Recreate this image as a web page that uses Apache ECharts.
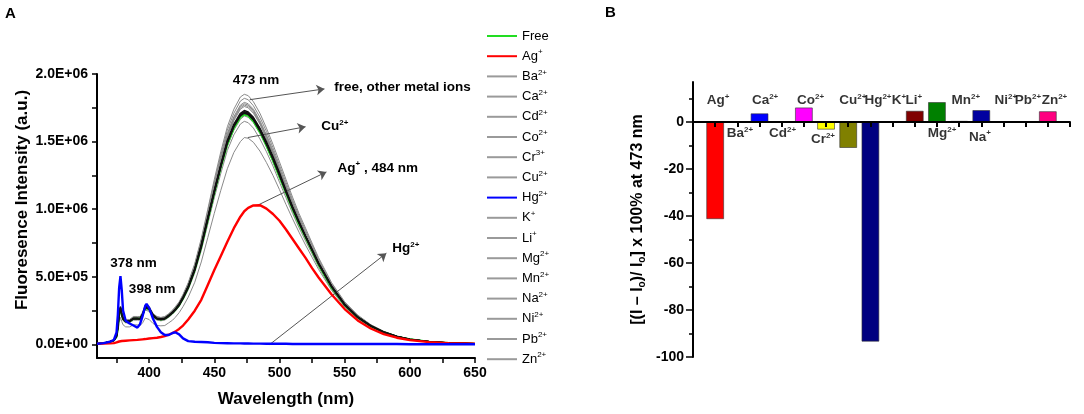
<!DOCTYPE html>
<html><head><meta charset="utf-8">
<script src="https://cdn.jsdelivr.net/npm/echarts@6.0.0/dist/echarts.min.js"></script>
<style>html,body{margin:0;padding:0;background:#fff}#c{width:1084px;height:414px}</style>
</head><body><div id="c"></div>
<script>
// ---------- Panel A data (intensity in units of 1E+06 a.u.) ----------
const wavelengths = [360,365,370,373,375,376,377,378,379,380,
  382,385,388,391,393,395,397,398,400,403,
  406,409,412,415,418,420,423,426,430,435,
  440,445,450,455,460,465,470,473,476,480,
  485,490,495,500,505,510,515,520,525,530,
  540,550,560,570,580,590,600,615,630,650];

const sFree = [.005,.01,.02,.03,.06,.12,.22,.26,.22,.19,
  .17,.17,.19,.19,.19,.22,.27,.28,.26,.21,
  .19,.185,.19,.21,.235,.255,.29,.34,.42,.55,
  .72,.92,1.12,1.31,1.48,1.60,1.68,1.70,1.69,1.65,
  1.57,1.47,1.36,1.24,1.12,1.00,.89,.79,.69,.59,
  .42,.29,.20,.135,.09,.058,.038,.02,.011,.006];
const sAg = [.005,.006,.008,.01,.015,.02,.022,.025,.026,.027,
  .028,.03,.032,.034,.036,.038,.04,.041,.044,.047,
  .05,.055,.062,.072,.085,.095,.115,.14,.185,.25,
  .33,.44,.55,.655,.76,.86,.945,.985,1.01,1.028,
  1.03,1.005,.965,.915,.85,.78,.71,.64,.565,.495,
  .37,.262,.178,.118,.077,.05,.032,.017,.01,.006];
const sBa = [.005,.01,.02,.03,.065,.13,.23,.27,.22,.19,
  .17,.17,.19,.19,.19,.22,.275,.285,.265,.215,
  .19,.185,.19,.21,.235,.255,.29,.345,.425,.555,
  .73,.93,1.13,1.32,1.50,1.62,1.70,1.72,1.71,1.67,
  1.59,1.49,1.38,1.26,1.13,1.01,.90,.80,.70,.60,
  .43,.295,.20,.137,.091,.059,.038,.02,.011,.006];
const sCa = [.005,.01,.02,.03,.06,.12,.22,.265,.22,.19,
  .175,.175,.195,.195,.195,.225,.28,.29,.27,.22,
  .195,.19,.195,.215,.245,.265,.30,.355,.44,.57,
  .75,.955,1.16,1.355,1.53,1.655,1.74,1.76,1.75,1.71,
  1.63,1.52,1.41,1.285,1.16,1.035,.92,.815,.71,.61,
  .435,.30,.207,.14,.093,.06,.039,.021,.011,.006];
const sCd = [.005,.01,.02,.03,.06,.12,.22,.265,.22,.19,
  .17,.17,.19,.19,.19,.22,.27,.285,.26,.21,
  .19,.185,.19,.21,.235,.255,.29,.34,.42,.55,
  .72,.925,1.125,1.315,1.49,1.61,1.69,1.71,1.70,1.66,
  1.58,1.48,1.37,1.25,1.13,1.01,.90,.795,.695,.595,
  .425,.292,.201,.136,.09,.058,.038,.02,.011,.006];
const sCo = [.005,.01,.02,.03,.06,.12,.22,.275,.23,.2,
  .18,.182,.203,.203,.203,.235,.29,.3,.278,.225,
  .203,.198,.203,.225,.25,.273,.31,.364,.45,.59,
  .77,.985,1.20,1.40,1.585,1.71,1.80,1.82,1.81,1.765,
  1.68,1.575,1.455,1.325,1.20,1.07,.952,.845,.738,.63,
  .45,.31,.214,.145,.096,.062,.041,.021,.012,.006];
const sCr = [.005,.01,.02,.03,.055,.11,.2,.24,.2,.175,
  .16,.16,.18,.18,.18,.21,.255,.265,.245,.2,
  .18,.175,.18,.2,.225,.245,.28,.33,.405,.53,
  .695,.89,1.085,1.265,1.435,1.55,1.63,1.65,1.64,1.60,
  1.52,1.425,1.32,1.20,1.085,.97,.863,.765,.67,.572,
  .407,.282,.194,.131,.087,.056,.037,.019,.011,.006];
const sCu = [.005,.01,.018,.025,.045,.09,.16,.2,.17,.145,
  .13,.13,.145,.145,.14,.16,.195,.2,.185,.155,
  .14,.138,.14,.16,.18,.2,.235,.28,.35,.46,
  .61,.79,.97,1.14,1.30,1.42,1.50,1.53,1.525,1.495,
  1.43,1.345,1.25,1.145,1.035,.93,.83,.735,.645,.555,
  .40,.278,.19,.13,.087,.056,.036,.019,.011,.006];
const sHg = [.005,.01,.02,.035,.09,.22,.42,.505,.40,.25,
  .175,.155,.14,.125,.15,.21,.285,.30,.27,.19,
  .13,.09,.07,.07,.085,.09,.075,.045,.025,.02,
  .018,.016,.012,.01,.009,.008,.008,.007,.007,.006,
  .006,.005,.005,.005,.005,.004,.004,.004,.004,.004,
  .004,.003,.003,.003,.003,.003,.002,.002,.002,.002];
const sK = [.005,.01,.02,.03,.07,.14,.24,.28,.23,.19,
  .17,.175,.195,.195,.19,.225,.28,.29,.27,.22,
  .195,.19,.195,.215,.24,.26,.30,.35,.43,.56,
  .74,.94,1.14,1.33,1.51,1.63,1.71,1.73,1.72,1.68,
  1.60,1.50,1.39,1.27,1.14,1.02,.91,.80,.70,.60,
  .43,.30,.205,.14,.092,.06,.039,.021,.012,.006];
const sLi = [.005,.01,.02,.03,.06,.12,.22,.27,.225,.195,
  .178,.18,.2,.2,.2,.232,.285,.295,.275,.222,
  .2,.195,.2,.222,.248,.27,.305,.36,.445,.58,
  .76,.97,1.18,1.38,1.56,1.685,1.77,1.79,1.78,1.74,
  1.655,1.55,1.435,1.305,1.18,1.055,.937,.83,.727,.62,
  .442,.305,.21,.142,.095,.061,.04,.021,.012,.006];
const sMg = [.005,.01,.02,.03,.06,.12,.22,.28,.235,.205,
  .185,.185,.207,.207,.207,.24,.295,.305,.283,.228,
  .207,.2,.207,.228,.255,.278,.315,.37,.457,.598,
  .783,1.00,1.22,1.425,1.61,1.74,1.83,1.85,1.84,1.795,
  1.71,1.60,1.48,1.35,1.22,1.09,.968,.86,.75,.642,
  .457,.316,.218,.147,.098,.063,.041,.022,.012,.007];
const sMn = [.005,.01,.02,.03,.065,.13,.23,.275,.225,.19,
  .172,.172,.192,.192,.19,.222,.275,.287,.265,.215,
  .192,.187,.192,.212,.238,.258,.294,.345,.425,.557,
  .73,.932,1.135,1.325,1.50,1.62,1.70,1.72,1.71,1.67,
  1.59,1.49,1.38,1.255,1.135,1.015,.90,.80,.70,.60,
  .43,.295,.202,.137,.091,.059,.038,.02,.011,.006];
const sNa = [.005,.01,.02,.03,.06,.12,.22,.27,.225,.19,
  .175,.178,.198,.198,.198,.23,.283,.293,.272,.222,
  .198,.193,.198,.22,.246,.267,.303,.356,.44,.576,
  .755,.965,1.17,1.37,1.55,1.675,1.76,1.78,1.77,1.73,
  1.645,1.54,1.425,1.30,1.17,1.045,.93,.825,.72,.615,
  .44,.304,.209,.141,.094,.061,.04,.021,.012,.006];
const sNi = [.005,.01,.02,.03,.06,.125,.225,.27,.22,.19,
  .17,.172,.19,.19,.19,.222,.272,.285,.262,.212,
  .19,.186,.19,.21,.236,.256,.292,.342,.422,.552,
  .725,.93,1.13,1.32,1.495,1.615,1.695,1.715,1.705,1.665,
  1.585,1.485,1.375,1.255,1.13,1.01,.90,.80,.70,.60,
  .43,.295,.202,.137,.091,.059,.038,.02,.011,.006];
const sPb = [.005,.01,.02,.03,.06,.12,.21,.25,.21,.18,
  .165,.165,.185,.185,.185,.215,.265,.275,.255,.205,
  .185,.18,.185,.205,.23,.25,.285,.335,.415,.545,
  .71,.91,1.105,1.295,1.465,1.585,1.665,1.69,1.68,1.64,
  1.56,1.46,1.35,1.23,1.11,.99,.885,.785,.685,.585,
  .415,.287,.198,.134,.089,.057,.037,.02,.011,.006];
const sZn = [.005,.01,.02,.03,.06,.12,.22,.265,.22,.19,
  .175,.175,.195,.195,.195,.225,.28,.29,.27,.22,
  .195,.19,.195,.215,.245,.265,.30,.355,.44,.575,
  .75,.96,1.165,1.365,1.54,1.665,1.75,1.77,1.76,1.72,
  1.635,1.53,1.415,1.29,1.165,1.04,.925,.82,.715,.615,
  .437,.302,.208,.14,.094,.06,.04,.021,.011,.006];

const spectraNames = ['Free','Ag+','Ba2+','Ca2+','Cd2+','Co2+','Cr3+','Cu2+','Hg2+','K+','Li+','Mg2+','Mn2+','Na2+','Ni2+','Pb2+','Zn2+'];
const spectraValues = [sFree,sAg,sBa,sCa,sCd,sCo,sCr,sCu,sHg,sK,sLi,sMg,sMn,sNa,sNi,sPb,sZn];

const xTickLabelsA = [400,450,500,550,600,650];
const xTicksA = [375,400,425,450,475,500,525,550,575,600,625,650];
const yTickLabelsA = [0,0.5,1.0,1.5,2.0];
const yTicksA = [0,0.25,0.5,0.75,1.0,1.25,1.5,1.75,2.0];

// ---------- Panel B data ----------
const barIons = ['Ag+','Ba2+','Ca2+','Cd2+','Co2+','Cr2+','Cu2+','Hg2+','K+','Li+','Mg2+','Mn2+','Na+','Ni2+','Pb2+','Zn2+'];
const barValues = [-41.3,0,3.6,0,6.1,-3.2,-11.0,-93.4,0,4.7,8.4,0.4,5.0,0,0,4.5];
const yTickLabelsB = [-100,-80,-60,-40,-20,0];
const yMinorTicksB = [-90,-70,-50,-30,-10,10];

// ---------- styles (kept apart from data) ----------
const FONT = 'Liberation Sans, Arial, sans-serif';
const barColors = ['#ff0000','#000000','#0000ff','#000000','#ff00ff','#ffff00','#808000','#000080','#000000','#800000','#008000','#333333','#0000a0','#000000','#000000','#ff0080'];
const specialStyle = {
  'Free': {color:'#22dd22', width:2, z:4},
  'Ag+': {color:'#ff0000', width:2.4, z:6},
  'Hg2+': {color:'#0000ff', width:2.4, z:7}
};
const darkIons = ['Ba2+','Cd2+','K+','Mn2+','Ni2+'];

function ionRich(name, b, s) {
  const m = name.match(/^([A-Za-z]+)(\d*\+)$/);
  return m ? '{' + b + '|' + m[1] + '}{' + s + '|' + m[2] + '}' : '{' + b + '|' + name + '}';
}
function sci(v) {
  const x = Math.round(v * 1e6);
  if (x === 0) return '0.0E+00';
  const e = Math.floor(Math.log10(x) + 1e-9);
  const m = x / Math.pow(10, e);
  return m.toFixed(1) + 'E+' + (e < 10 ? '0' + e : e);
}

const series = [];
spectraNames.forEach((n, i) => {
  const sp = specialStyle[n];
  const dark = darkIons.indexOf(n) >= 0;
  const color = sp ? sp.color : (dark ? '#111111' : '#8a8a8a');
  series.push({
    type: 'line', name: n, xAxisIndex: 0, yAxisIndex: 0,
    data: wavelengths.map((w, j) => [w, spectraValues[i][j]]),
    showSymbol: false, symbol: 'none', silent: true,
    color: color,
    lineStyle: {color: color, width: sp ? sp.width : (dark ? 1.4 : 1)},
    z: sp ? sp.z : (dark ? 5 : 2)
  });
});

const boldRich = {
  b: {fontFamily: FONT, fontWeight: 'bold', fontSize: 13.5, color: '#000', lineHeight: 16},
  p: {fontFamily: FONT, fontWeight: 'bold', fontSize: 8, color: '#000', verticalAlign: 'top', lineHeight: 7}
};

// Panel A annotations (text + arrows, in data coordinates)
const annotA = [
  {value: [482, 1.95], text: '{b|473 nm}', align: 'center'},
  {value: [542, 1.90], text: '{b|free, other metal ions}', align: 'left'},
  {value: [532, 1.61], text: '{b|Cu}{p|2+}', align: 'left'},
  {value: [544.5, 1.305], text: '{b|Ag}{p|+}{b| , 484 nm}', align: 'left'},
  {value: [586.5, 0.71], text: '{b|Hg}{p|2+}', align: 'left'},
  {value: [388, 0.60], text: '{b|378 nm}', align: 'center'},
  {value: [402.3, 0.41], text: '{b|398 nm}', align: 'center'}
];
const arrowsA = [
  [[477.2, 1.81], [534.5, 1.89]],
  [[475.7, 1.53], [520, 1.61]],
  [[483.3, 1.03], [536, 1.276]],
  [[492.5, 0.0], [582, 0.675]]
];
series.push({
  type: 'scatter', name: 'annotA', xAxisIndex: 0, yAxisIndex: 0, silent: true, z: 10,
  symbolSize: 1, itemStyle: {color: 'rgba(0,0,0,0)'},
  data: annotA.map(a => ({value: a.value, label: {show: true, position: 'inside', align: a.align, color: '#000', opacity: 1, formatter: a.text, rich: boldRich}})),
  markLine: {
    silent: true, animation: false, symbol: ['none', 'arrow'], symbolSize: 8,
    label: {show: false},
    lineStyle: {color: '#555', width: 1, type: 'solid', opacity: 1},
    data: arrowsA.map(a => [{coord: a[0]}, {coord: a[1]}])
  }
});

// Panel B bars
series.push({
  type: 'bar', name: 'change', xAxisIndex: 1, yAxisIndex: 1, silent: true, barWidth: 17.5, z: 2,
  data: barValues.map((v, i) => ({value: [i + 1, v], itemStyle: {color: barColors[i], borderColor: '#333', borderWidth: 0.6}}))
});
// Panel B ion labels
const annotB = [[1.13,9.2],[2.12,-4.9],[3.25,9.2],[4.04,-4.9],[5.3,9.2],[5.86,-7.5],[7.21,9.2],[8.34,9.2],[9.29,9.2],[9.96,9.2],[11.23,-4.9],[12.3,9.2],[12.94,-6.4],[14.11,9.2],[15.1,9.2],[16.3,9.2]];
series.push({
  type: 'scatter', name: 'annotB', xAxisIndex: 1, yAxisIndex: 1, silent: true, z: 10,
  symbolSize: 1, itemStyle: {color: 'rgba(0,0,0,0)'},
  data: barIons.map((n, i) => ({value: annotB[i], label: {show: true, position: 'inside', color: '#000', formatter: ionRich(n, 'b', 'p'), rich: {
    b: {fontFamily: FONT, fontWeight: 'bold', fontSize: 13.5, color: '#000', lineHeight: 16},
    p: {fontFamily: FONT, fontWeight: 'bold', fontSize: 8, color: '#000', verticalAlign: 'top', lineHeight: 7}
  }}}))
});

const axisLineStyle = {color: '#000', width: 2};
const tickStyle = {color: '#000', width: 1.5};
const labelStyle = {fontFamily: FONT, fontWeight: 'bold', fontSize: 14, color: '#000'};

const option = {
  animation: false,
  backgroundColor: '#fff',
  title: [
    {text: 'A', left: 5, top: 6, padding: 0, textStyle: {fontFamily: FONT, fontWeight: 'bold', fontSize: 15, color: '#000'}},
    {text: 'B', left: 605, top: 5, padding: 0, textStyle: {fontFamily: FONT, fontWeight: 'bold', fontSize: 15, color: '#000'}}
  ],
  legend: {
    orient: 'vertical', left: 487, top: 28, padding: 0,
    itemWidth: 30, itemHeight: 2, itemGap: 4.2, icon: 'rect', selectedMode: false,
    data: spectraNames.map(n => ({name: n, itemStyle: {color: specialStyle[n] ? specialStyle[n].color : '#9a9a9a'}})),
    formatter: n => ionRich(n, 'n', 's'),
    textStyle: {fontFamily: FONT, fontSize: 13, color: '#000', lineHeight: 16, rich: {
      n: {fontFamily: FONT, fontSize: 13, color: '#000', lineHeight: 16},
      s: {fontFamily: FONT, fontSize: 8, color: '#000', verticalAlign: 'top', lineHeight: 7}
    }}
  },
  grid: [
    {left: 97, top: 74, width: 378, height: 284},
    {left: 693, top: 82, width: 377, height: 275}
  ],
  xAxis: [
    {type: 'value', gridIndex: 0, min: 360, max: 650,
      name: 'Wavelength (nm)', nameLocation: 'middle', nameGap: 33,
      nameTextStyle: {fontFamily: FONT, fontWeight: 'bold', fontSize: 17, color: '#000'},
      axisLine: {show: true, onZero: false, lineStyle: axisLineStyle},
      axisTick: {show: true, length: 5, lineStyle: tickStyle, customValues: xTicksA},
      axisLabel: Object.assign({margin: 8, customValues: xTickLabelsA}, labelStyle),
      splitLine: {show: false}},
    {type: 'value', gridIndex: 1, min: 0, max: 17, interval: 1, z: 5,
      axisLine: {show: true, onZero: true, onZeroAxisIndex: 1, lineStyle: axisLineStyle},
      axisTick: {show: true, length: 5, lineStyle: {color: '#000', width: 2}},
      axisLabel: {show: false}, splitLine: {show: false}}
  ],
  yAxis: [
    {type: 'value', gridIndex: 0, min: -0.1, max: 2.0,
      name: 'Fluoresence Intensity (a.u.)', nameLocation: 'middle', nameGap: 66,
      nameTextStyle: {fontFamily: FONT, fontWeight: 'bold', fontSize: 17, color: '#000', padding: [0, 0, 0, 32]},
      axisLine: {show: true, lineStyle: axisLineStyle},
      axisTick: {show: true, length: 5, lineStyle: tickStyle, customValues: yTicksA},
      axisLabel: Object.assign({margin: 9, customValues: yTickLabelsA, formatter: sci}, labelStyle),
      splitLine: {show: false}},
    {type: 'value', gridIndex: 1, min: -100, max: 17, position: 'left',
      name: '{n|[(I – I}{o|o}{n|)/ I}{o|o}{n|] x 100% at 473 nm}', nameLocation: 'middle', nameGap: 46,
      nameTextStyle: {fontFamily: FONT, fontWeight: 'bold', fontSize: 16, color: '#000', rich: {
        n: {fontFamily: FONT, fontWeight: 'bold', fontSize: 16, color: '#000', lineHeight: 18},
        o: {fontFamily: FONT, fontWeight: 'bold', fontSize: 10, color: '#000', verticalAlign: 'bottom', lineHeight: 10}
      }},
      axisLine: {show: true, onZero: false, lineStyle: axisLineStyle},
      axisTick: {show: true, length: 7, lineStyle: tickStyle, customValues: yTickLabelsB},
      axisLabel: Object.assign({margin: 9, customValues: yTickLabelsB}, labelStyle),
      splitLine: {show: false}},
    {type: 'value', gridIndex: 1, min: -100, max: 17, position: 'left', offset: 0,
      axisLine: {show: false, onZero: false},
      axisTick: {show: true, length: 4, lineStyle: tickStyle, customValues: yMinorTicksB},
      axisLabel: {show: false}, splitLine: {show: false}}
  ],
  series: series
};

const chart = echarts.init(document.getElementById('c'), null, {renderer: 'canvas'});
chart.setOption(option);
</script>
</body></html>
